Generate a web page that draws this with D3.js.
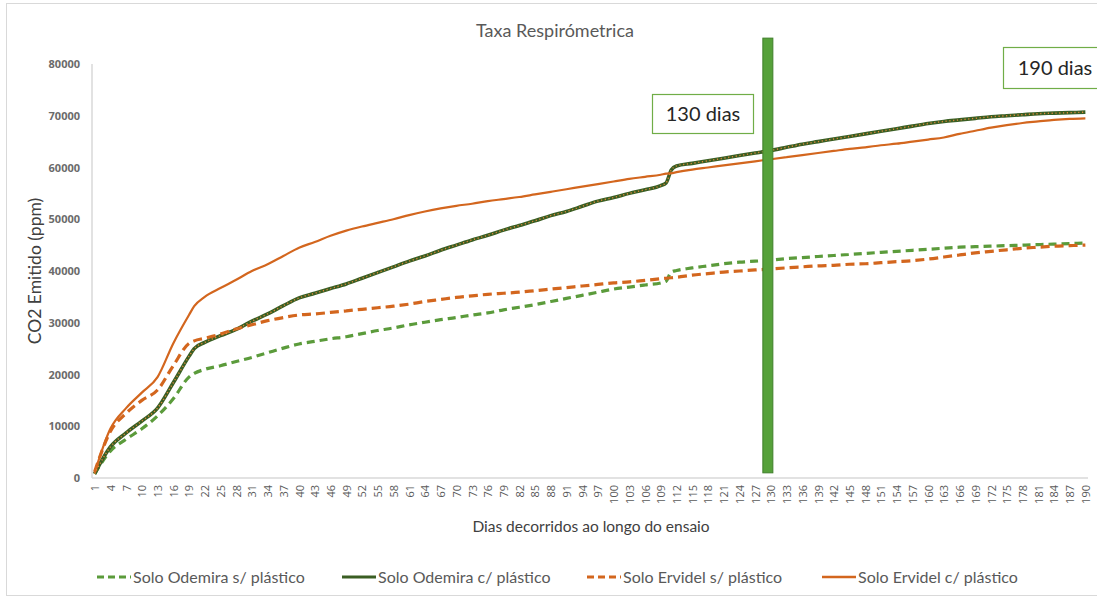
<!DOCTYPE html>
<html><head><meta charset="utf-8">
<script src="https://cdn.jsdelivr.net/npm/d3@7"></script>
<style>
html,body{margin:0;padding:0;background:#fff;}
svg{display:block;font-family:"Lato","Open Sans",sans-serif;}
</style></head>
<body>
<svg id="c" width="1097" height="600"></svg>
<script>
const days = [1,4,7,10,13,16,19,20,22,25,28,31,34,37,40,43,46,49,52,55,58,61,64,67,70,73,76,79,82,85,88,91,94,97,100,103,106,109,110,111,112,115,118,121,124,127,130,133,136,139,142,145,148,151,154,157,160,163,166,169,172,175,178,181,184,187,190];

const odemiraSem = [800,5200,7500,9500,12000,15300,19500,20200,
 21000,21700,22500,23300,24200,25100,25900,26400,26900,27300,
 27900,28500,29000,29600,30100,30600,31000,31500,31900,32500,
 33000,33500,34100,34700,35300,35900,36500,36900,37300,37700,
 38000,39800,
 40100,40600,41000,41400,41700,41900,42100,42400,42600,42800,
 43000,43200,43400,43600,43800,44000,44200,44400,44600,44700,
 44800,44900,45000,45100,45200,45300,45400];

const odemiraCom = [800,6000,8700,11000,13500,18400,23500,25000,
 26200,27500,28700,30300,31700,33300,34800,35700,36600,37500,
 38600,39700,40800,41900,42900,44000,45000,46000,46900,47900,
 48800,49700,50700,51500,52500,53500,54200,55000,55700,56500,
 57000,59500,
 60300,60800,61300,61800,62300,62800,63300,63900,64500,65000,
 65500,66000,66500,67000,67500,68000,68500,68900,69200,69500,
 69800,70000,70200,70400,70500,70600,70700];

const ervidelSem = [1200,9000,12500,15000,17000,21700,26000,26500,
 27000,27800,28800,29600,30400,31000,31500,31700,32000,32300,
 32600,32900,33200,33600,34100,34500,34900,35200,35500,35700,
 35900,36200,36500,36800,37100,37400,37700,37900,38200,38500,
 38600,38700,
 38800,39200,39500,39800,40000,40200,40400,40600,40800,41000,
 41100,41300,41400,41600,41800,42000,42300,42700,43100,43500,
 43800,44100,44400,44600,44800,44900,45000];

const ervidelCom = [1000,9500,13500,16500,19500,26000,31500,33200,
 35000,36700,38300,40000,41300,42900,44500,45600,46800,47800,
 48600,49300,50000,50800,51500,52100,52600,53000,53500,53900,
 54300,54800,55300,55800,56300,56800,57300,57800,58200,58600,
 58800,58900,
 59100,59600,60000,60400,60800,61200,61600,62000,62400,62800,
 63200,63600,63900,64300,64600,65000,65400,65800,66500,67100,
 67700,68200,68600,68900,69200,69400,69500];

const seriesNames = ["Solo Odemira s/ plástico","Solo Odemira c/ plástico","Solo Ervidel s/ plástico","Solo Ervidel c/ plástico"];
const yTicks = [0,10000,20000,30000,40000,50000,60000,70000,80000];
const xTickDays = d3.range(1, 191, 3);
const markers = [{label:"130 dias", day:130}];

const svg = d3.select("#c");
const M = {left:92, right:1088, top:64, bottom:478};
const x = d3.scaleLinear().domain([0.5,190.5]).range([M.left, M.right]);
const y = d3.scaleLinear().domain([0,80000]).range([M.bottom, M.top]);

// chart border
svg.append("rect").attr("x",6.5).attr("y",3.5).attr("width",1100).attr("height",592)
  .attr("fill","none").attr("stroke","#d9d9d9");

// title
svg.append("text").attr("x",555).attr("y",37).attr("text-anchor","middle")
  .attr("font-size",18).attr("fill","#595959").text("Taxa Respirómetrica");

// axes lines
svg.append("line").attr("x1",M.left).attr("x2",M.left).attr("y1",y(80000)).attr("y2",M.bottom)
  .attr("stroke","#d9d9d9").attr("stroke-width",1.5);
svg.append("line").attr("x1",M.left).attr("x2",M.right).attr("y1",M.bottom).attr("y2",M.bottom)
  .attr("stroke","#d9d9d9").attr("stroke-width",1.5);

// y ticks
const yAxis = d3.axisLeft(y).tickValues(yTicks).tickSize(0).tickPadding(12).tickFormat(d3.format("d"));
const gy = svg.append("g").attr("transform",`translate(${M.left},0)`).call(yAxis);
gy.select(".domain").remove();
gy.selectAll("text").attr("font-size",11).attr("font-weight","bold").attr("fill","#6b6b6b")
  .style("font-family","'Open Sans',sans-serif");

// x ticks
const xAxis = d3.axisBottom(x).tickValues(xTickDays).tickSize(0).tickPadding(0).tickFormat(d=>d);
const gx = svg.append("g").attr("transform",`translate(0,${M.bottom})`).call(xAxis);
gx.select(".domain").remove();
gx.selectAll("text").attr("font-size",11).attr("fill","#595959")
  .attr("text-anchor","end").attr("dy",null).attr("y",0)
  .attr("transform","translate(4,7) rotate(-90)")
  .style("font-family","'Open Sans',sans-serif");

// axis titles
svg.append("text").attr("transform",`translate(41,271) rotate(-90)`).attr("text-anchor","middle")
  .attr("font-size",17.5).attr("fill","#404040").text("CO2 Emitido (ppm)");
svg.append("text").attr("x",591).attr("y",532).attr("text-anchor","middle")
  .attr("font-size",15.5).attr("fill","#404040").text("Dias decorridos ao longo do ensaio");

const line = d3.line().x((d,i)=>x(days[i])).y(d=>y(d)).curve(d3.curveMonotoneX);

const styles = [
  {data:odemiraSem, color:"#5b9b3b", width:3.2, dash:"8,5"},
  {data:odemiraCom, color:"#3a5e23", width:3.6, dash:null},
  {data:ervidelSem, color:"#d3661e", width:3.2, dash:"9,5"},
  {data:ervidelCom, color:"#d3661e", width:2.2, dash:null}
];
styles.forEach(s=>{
  svg.append("path").datum(s.data).attr("d",line).attr("fill","none")
    .attr("stroke",s.color).attr("stroke-width",s.width)
    .attr("stroke-dasharray",s.dash).attr("stroke-linejoin","round");
});
// orange dotted overlay on Odemira c/
svg.append("path").datum(odemiraCom).attr("d",line).attr("fill","none")
  .attr("stroke","#e08a3a").attr("stroke-width",1.4).attr("stroke-dasharray","1.2,2.6");

// marker bar
markers.forEach(m=>{
  const cx = x(m.day) - 3;
  svg.append("rect").attr("x",cx-5).attr("width",10)
    .attr("y",y(85000)).attr("height",y(1000)-y(85000))
    .attr("fill","#56a13a").attr("stroke","#3f7f2a").attr("stroke-width",1);
});

// annotation boxes
function box(x0,y0,w,h,label,tx){
  svg.append("rect").attr("x",x0).attr("y",y0).attr("width",w).attr("height",h)
    .attr("fill","#fff").attr("stroke","#70ad47").attr("stroke-width",1.2);
  svg.append("text").attr("x",tx).attr("y",y0+h/2+7).attr("font-size",20)
    .attr("fill","#262626").attr("text-anchor","middle").text(label);
}
box(652.5,94.5,101,39,"130 dias",703);
box(1003.5,47.5,100,41,"190 dias",1055);

// legend
const legX = [97,342,587,822];
styles.forEach((s,i)=>{
  const g = svg.append("g").attr("transform",`translate(${legX[i]},577)`);
  g.append("line").attr("x1",0).attr("x2",34).attr("y1",0).attr("y2",0)
    .attr("stroke",s.color).attr("stroke-width",s.width>3?3:2.5)
    .attr("stroke-dasharray",s.dash?"7,4":null);
  g.append("text").attr("x",36).attr("y",5.5).attr("font-size",16).attr("fill","#595959")
    .text(seriesNames[i]);
});
</script>
</body></html>
